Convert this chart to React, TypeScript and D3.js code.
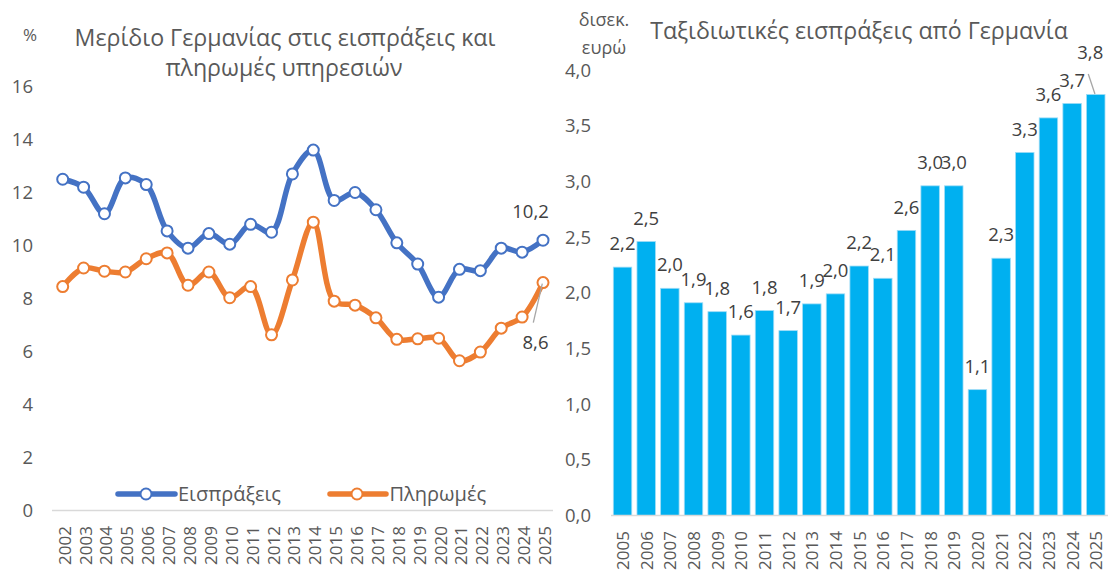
import React from "react";
import * as d3 from "d3";

const yearsLeft = ["2002","2003","2004","2005","2006","2007","2008","2009","2010","2011","2012","2013","2014","2015","2016","2017","2018","2019","2020","2021","2022","2023","2024","2025"];
const receipts = [12.5,12.2,11.2,12.55,12.3,10.55,9.9,10.45,10.05,10.8,10.5,12.7,13.6,11.7,12.0,11.35,10.1,9.3,8.05,9.1,9.05,9.9,9.75,10.2];
const payments = [8.45,9.15,9.03,9.0,9.5,9.72,8.5,9.0,8.03,8.45,6.63,8.7,10.88,7.9,7.75,7.27,6.46,6.48,6.5,5.65,5.98,6.88,7.3,8.6];
const leftTicks = [0,2,4,6,8,10,12,14,16];

const yearsRight = ["2005","2006","2007","2008","2009","2010","2011","2012","2013","2014","2015","2016","2017","2018","2019","2020","2021","2022","2023","2024","2025"];
const travelReceipts = [2.23,2.46,2.04,1.91,1.83,1.62,1.84,1.66,1.90,1.99,2.24,2.13,2.56,2.96,2.96,1.13,2.31,3.26,3.57,3.70,3.78];
const rightTicks = [0,0.5,1,1.5,2,2.5,3,3.5,4];

const FONT = "'Open Sans', 'DejaVu Sans', sans-serif";
const fmt = (v: number, d: number) => v.toFixed(d).replace(".", ",");

export default function App() {
  const W = 1111, H = 572;
  const xL = d3.scalePoint<string>().domain(yearsLeft).range([62.7, 543]);
  const yL = d3.scaleLinear().domain([0, 16]).range([510.5, 86.5]);
  const line = d3.line<number>()
    .x((_, i) => xL(yearsLeft[i]) as number)
    .y((d) => yL(d))
    .curve(d3.curveCatmullRom.alpha(0.5));
  const blue = "#4472C4", orange = "#ED7D31";
  const tickCol = "#595959", labCol = "#404040";

  const xR = d3.scaleBand<string>().domain(yearsRight).range([610.7, 1107.6]).paddingInner(0.22).paddingOuter(0.11);
  const yR = d3.scaleLinear().domain([0, 4]).range([515.5, 70]);
  const barFill = "#00B0F0";

  const fs = 18.5;
  const titleFs = 23.2;
  const legFs = 20;
  const lastIdx = yearsLeft.length - 1;
  const lastX = xL(yearsLeft[lastIdx]) as number;
  const lastR = yearsRight.length - 1;
  const lastBarX = (xR(yearsRight[lastR]) as number) + xR.bandwidth() / 2;

  return (
    <svg width={W} height={H} style={{ position: "absolute", left: 0, top: 0, background: "#fff" }} fontFamily={FONT}>
      {/* LEFT CHART */}
      <text x={30} y={41} fontSize={17} fill={tickCol} textAnchor="middle">%</text>
      <text x={285} y={46} fontSize={titleFs} fill={tickCol} textAnchor="middle">Μερίδιο Γερμανίας στις εισπράξεις και</text>
      <text x={284} y={76} fontSize={titleFs} fill={tickCol} textAnchor="middle">πληρωμές υπηρεσιών</text>
      {leftTicks.map((t) => (
        <text key={t} x={33} y={yL(t) + fs * 0.36} fontSize={fs} fill={tickCol} textAnchor="end">{t}</text>
      ))}
      <line x1={52} x2={553} y1={yL(0)} y2={yL(0)} stroke="#d9d9d9" strokeWidth={1.5} />
      {yearsLeft.map((y) => (
        <text key={y} transform={`translate(${(xL(y) as number) + 1.5},526) rotate(-90)`} fontSize={17} fill={tickCol} textAnchor="end" dominantBaseline="central">{y}</text>
      ))}
      <path d={line(receipts) || ""} fill="none" stroke={blue} strokeWidth={5.5} strokeLinejoin="round" />
      <path d={line(payments) || ""} fill="none" stroke={orange} strokeWidth={5.5} strokeLinejoin="round" />
      {receipts.map((v, i) => (
        <circle key={"r" + i} cx={xL(yearsLeft[i]) as number} cy={yL(v)} r={5.5} fill="#fff" stroke={blue} strokeWidth={2} />
      ))}
      {payments.map((v, i) => (
        <circle key={"p" + i} cx={xL(yearsLeft[i]) as number} cy={yL(v)} r={5.5} fill="#fff" stroke={orange} strokeWidth={2} />
      ))}
      <text x={lastX - 12.5} y={yL(receipts[lastIdx]) - 29 + fs * 0.36} fontSize={fs} fill={labCol} textAnchor="middle">{fmt(receipts[lastIdx], 1)}</text>
      <line x1={lastX - 0.7} y1={yL(payments[lastIdx]) + 1} x2={lastX - 9.7} y2={yL(payments[lastIdx]) + 40} stroke="#a6a6a6" strokeWidth={1.3} />
      <text x={lastX - 7.5} y={yL(payments[lastIdx]) + 60 + fs * 0.36} fontSize={fs} fill={labCol} textAnchor="middle">{fmt(payments[lastIdx], 1)}</text>
      {/* legend */}
      <line x1={118} x2={175} y1={494} y2={494} stroke={blue} strokeWidth={5.5} strokeLinecap="round" />
      <circle cx={146} cy={494} r={5.5} fill="#fff" stroke={blue} strokeWidth={2} />
      <text x={178} y={494 + legFs * 0.36} fontSize={legFs} fill={tickCol}>Εισπράξεις</text>
      <line x1={330} x2={386} y1={494} y2={494} stroke={orange} strokeWidth={5.5} strokeLinecap="round" />
      <circle cx={357} cy={494} r={5.5} fill="#fff" stroke={orange} strokeWidth={2} />
      <text x={389.5} y={494 + legFs * 0.36} fontSize={legFs} fill={tickCol}>Πληρωμές</text>

      {/* RIGHT CHART */}
      <text x={604} y={26} fontSize={18} fill={tickCol} textAnchor="middle">δισεκ.</text>
      <text x={604} y={54} fontSize={18} fill={tickCol} textAnchor="middle">ευρώ</text>
      <text x={859} y={39} fontSize={titleFs} fill={tickCol} textAnchor="middle">Ταξιδιωτικές εισπράξεις από Γερμανία</text>
      {rightTicks.map((t) => (
        <text key={t} x={591} y={yR(t) + fs * 0.36} fontSize={fs} fill={tickCol} textAnchor="end">{fmt(t, 1)}</text>
      ))}
      {travelReceipts.map((v, i) => (
        <rect key={i} x={xR(yearsRight[i]) as number} y={yR(v)} width={xR.bandwidth()} height={yR(0) - yR(v)} fill={barFill} stroke="#9fdcf6" strokeWidth={0.8} />
      ))}
      <line x1={611} x2={1108} y1={yR(0)} y2={yR(0)} stroke="#d9d9d9" strokeWidth={1.5} />
      {yearsRight.map((y) => (
        <text key={y} transform={`translate(${(xR(y) as number) + xR.bandwidth() / 2},531) rotate(-90)`} fontSize={17} fill={tickCol} textAnchor="end" dominantBaseline="central">{y}</text>
      ))}
      {travelReceipts.map((v, i) => {
        if (i === lastR) return null;
        const cx = (xR(yearsRight[i]) as number) + xR.bandwidth() / 2;
        return (
          <text key={"l" + i} x={cx} y={yR(v) - 23.5 + fs * 0.36} fontSize={fs} fill={labCol} textAnchor="middle">{fmt(v, 1)}</text>
        );
      })}
      <line x1={lastBarX - 7.5} y1={yR(travelReceipts[lastR]) - 20.5} x2={lastBarX - 0.8} y2={yR(travelReceipts[lastR]) - 0.5} stroke="#a6a6a6" strokeWidth={1.3} />
      <text x={lastBarX - 5.5} y={yR(travelReceipts[lastR]) - 42 + fs * 0.36} fontSize={fs} fill={labCol} textAnchor="middle">{fmt(travelReceipts[lastR], 1)}</text>
    </svg>
  );
}
